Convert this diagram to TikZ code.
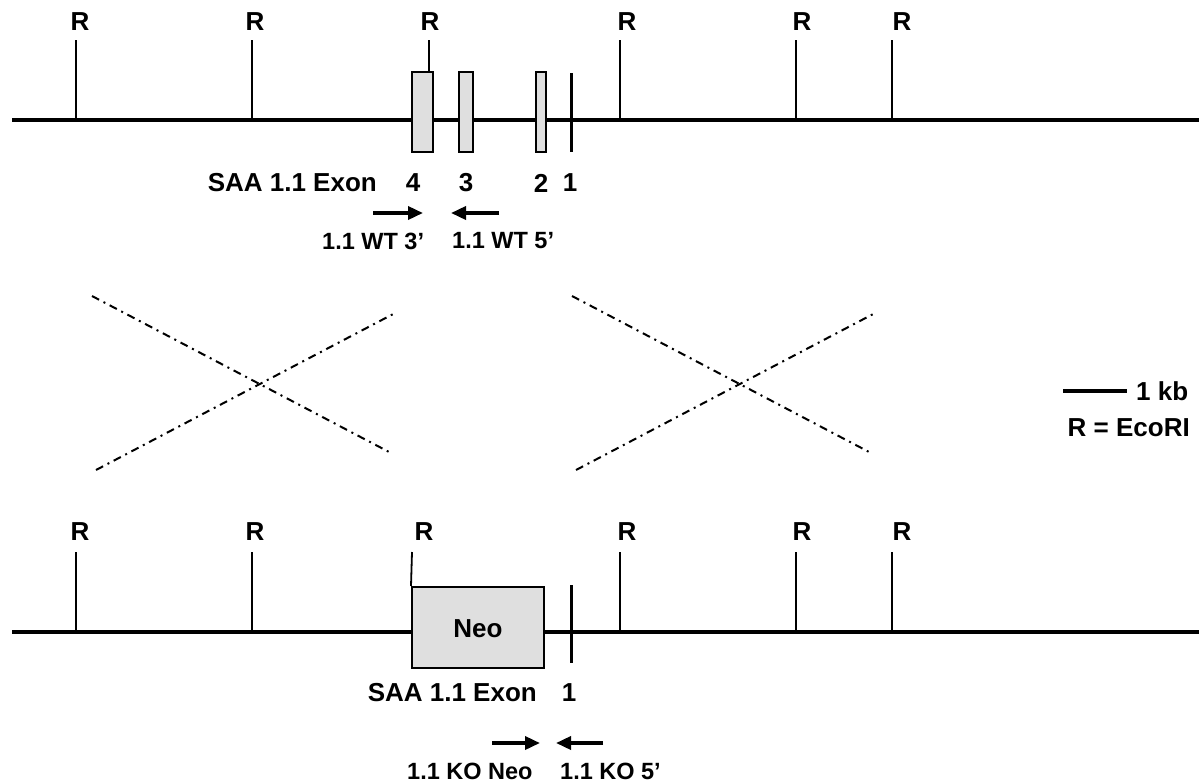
\documentclass[tikz,border=0pt]{standalone}
\usepackage{fontspec}
\setmainfont{Liberation Sans}
\usetikzlibrary{arrows.meta}
\begin{document}
\begin{tikzpicture}[x=1pt,y=-1pt,
  lbl/.style={font=\bfseries\fontsize{26}{28}\selectfont, inner sep=0pt, anchor=center},
  plbl/.style={font=\bfseries\fontsize{23.5}{25}\selectfont, inner sep=0pt, anchor=center},
  dna/.style={line width=4pt},
  site/.style={line width=1.8pt},
  exonbox/.style={draw, line width=2pt, fill=gray!25},
  exonone/.style={line width=3pt},
  primer/.style={line width=3.5pt, -{Triangle[length=15pt,width=13pt]}},
  cross/.style={line width=2pt, dash pattern=on 8pt off 5pt on 2pt off 5pt}]
\useasboundingbox (0,0) rectangle (1199,782);
% ---------- top (wild type) ----------
\coordinate (tL) at (12,120);
\coordinate (tR) at (1199,120);
\draw[dna] (tL) -- (tR);
\foreach \n/\x/\lx in {a/76/80, b/252/255, d/620/627, e/796/802, f/892/902}{
  \coordinate (ts\n) at (\x,40);
  \coordinate (tb\n) at (\x,120);
  \draw[site] (ts\n) -- (tb\n);
  \node[lbl] (tR\n) at (\lx,22) {R};
}
\node[lbl] (tRc) at (430,22) {R};
\coordinate (tsc) at (429,40);
\node[exonbox, minimum width=21pt, minimum height=80pt, inner sep=0pt] (ex4) at (422,112) {};
\node[exonbox, minimum width=14pt, minimum height=80pt, inner sep=0pt] (ex3) at (466,112) {};
\node[exonbox, minimum width=10pt, minimum height=80pt, inner sep=0pt] (ex2) at (541,112) {};
\draw[site] (tsc) -- (ex4.north -| tsc);
\coordinate (e1t) at (571,73);
\coordinate (e1b) at (571,152);
\draw[exonone] (e1t) -- (e1b);
\node[lbl, anchor=east] (tsaa) at (377,183) {SAA 1.1 Exon};
\node[lbl] (n4) at (413,183) {4};
\node[lbl] (n3) at (466,183) {3};
\node[lbl] (n2) at (541,183) {2};
\node[lbl] (n1) at (570,183) {1};
\coordinate (pa1) at (373,213);
\coordinate (pa2) at (423,213);
\coordinate (pb1) at (499,213);
\coordinate (pb2) at (451,213);
\draw[primer] (pa1) -- (pa2);
\draw[primer] (pb1) -- (pb2);
\node[plbl, anchor=west] (wt3) at (322,241) {1.1 WT 3’};
\node[plbl, anchor=west] (wt5) at (452,241) {1.1 WT 5’};
% ---------- crossover lines ----------
\coordinate (c1a) at (92,296);  \coordinate (c1b) at (391,453);
\coordinate (c2a) at (96,470);  \coordinate (c2b) at (397,312);
\coordinate (c3a) at (572,296); \coordinate (c3b) at (871,453);
\coordinate (c4a) at (576,470); \coordinate (c4b) at (877,312);
\draw[cross] (c1a) -- (c1b);
\draw[cross] (c2a) -- (c2b);
\draw[cross] (c3a) -- (c3b);
\draw[cross] (c4a) -- (c4b);
% ---------- scale / legend ----------
\coordinate (sb1) at (1063,391);
\coordinate (sb2) at (1127,391);
\draw[line width=3.5pt] (sb1) -- (sb2);
\node[lbl, anchor=west] (kb) at (1136,391) {1 kb};
\node[lbl, anchor=east] (eco) at (1190,428) {R = EcoRI};
% ---------- bottom (knockout) ----------
\coordinate (bL) at (12,632);
\coordinate (bR) at (1199,632);
\draw[dna] (bL) -- (bR);
\foreach \n/\x/\lx in {a/76/80, b/252/255, d/620/627, e/796/802, f/892/902}{
  \coordinate (bs\n) at (\x,552);
  \coordinate (bb\n) at (\x,632);
  \draw[site] (bs\n) -- (bb\n);
  \node[lbl] (bR\n) at (\lx,532) {R};
}
\node[lbl] (bRc) at (424,532) {R};
\node[exonbox, minimum width=132pt, minimum height=81pt, inner sep=0pt] (neo) at (478,627.5) {};
\node[lbl] (neotxt) at (478,629) {Neo};
\coordinate (bsc) at (412,552);
\draw[site] (bsc) -- (neo.north west);
\coordinate (f1t) at (571,585);
\coordinate (f1b) at (571,663);
\draw[exonone] (f1t) -- (f1b);
\node[lbl, anchor=east] (bsaa) at (537,693) {SAA 1.1 Exon};
\node[lbl] (bn1) at (569,693) {1};
\coordinate (qa1) at (492,743);
\coordinate (qa2) at (540,743);
\coordinate (qb1) at (603,743);
\coordinate (qb2) at (556,743);
\draw[primer] (qa1) -- (qa2);
\draw[primer] (qb1) -- (qb2);
\node[plbl, anchor=west] (koneo) at (407,771) {1.1 KO Neo};
\node[plbl, anchor=west] (ko5) at (560,771) {1.1 KO 5’};
\end{tikzpicture}
\end{document}
